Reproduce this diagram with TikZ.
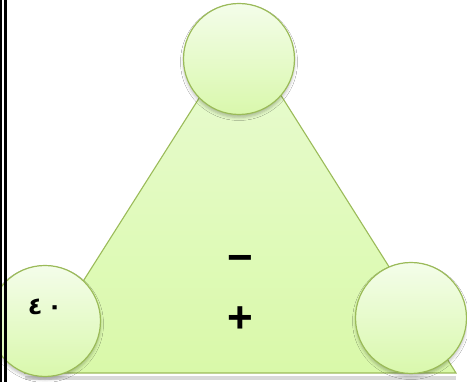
\documentclass[tikz,border=0pt]{standalone}
\usepackage{fontspec}
\setmainfont{Liberation Sans}
\newfontfamily\arabicfont[Script=Arabic]{DejaVu Sans}
\usetikzlibrary{shadows.blur}
\definecolor{edgegreen}{HTML}{9BBB59}
\definecolor{ctop}{HTML}{F4FDEA}
\definecolor{cbot}{HTML}{D9F8AC}
\definecolor{ttop}{HTML}{E9FBD3}
\definecolor{tbot}{HTML}{D9F9A9}
\tikzset{
  ball/.style={circle, draw=edgegreen, line width=1.2pt, minimum size=111pt, inner sep=0pt,
    top color=ctop, bottom color=cbot,
    blur shadow={shadow xshift=0pt, shadow yshift=-3pt, shadow blur radius=3pt, shadow opacity=25}},
  tri/.style={draw=edgegreen, line width=1.1pt, top color=ttop, bottom color=tbot},
  sign/.style={font=\fontsize{44}{48}\selectfont\bfseries, inner sep=0pt},
  arab/.style={font=\arabicfont\bfseries\fontsize{24}{28}\selectfont, inner sep=0pt}
}
\begin{document}
\begin{tikzpicture}[x=1pt,y=-1pt]
\useasboundingbox (0,0) rectangle (467,382);
\clip (0,0) rectangle (467,382);
\fill[white] (0,0) rectangle (467,382);
\coordinate (apex) at (241,32);
\coordinate (bl) at (25,373);
\coordinate (br) at (456,373);
\fill[black, opacity=0.15] ([yshift=-3pt]bl) -- ([yshift=-3pt]br) -- ([yshift=-7pt]br) -- ([yshift=-7pt]bl) -- cycle;
\draw[tri] (apex) -- (br) -- (bl) -- cycle;
\node[ball] (top) at (239,59) {};
\node[ball] (left) at (45,321) {};
\node[ball] (right) at (411,318) {};
\node[arab] (num) at (45,307) {٤\kern5pt٠};
\node[sign] (minus) at (240,264) {−};
\node[sign] (plus) at (240,320) {+};
\fill[black] (0,0) rectangle (2,382);
\fill[black] (4,0) rectangle (6.5,382);
\end{tikzpicture}
\end{document}
